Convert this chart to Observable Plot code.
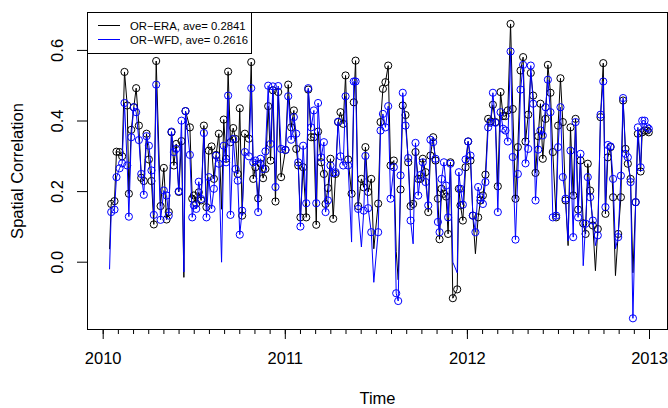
<!DOCTYPE html>
<html><head><meta charset="utf-8">
<script src="https://cdn.jsdelivr.net/npm/d3@7"></script>
<script src="https://cdn.jsdelivr.net/npm/@observablehq/plot@0.6"></script>
<style>
html,body{margin:0;padding:0;background:#fff;}
#wrap{position:relative;width:668px;height:408px;font-family:"Liberation Sans",Arial,sans-serif;}
.legend{position:absolute;left:87px;top:12px;width:163px;height:40px;border:1px solid #000;background:#fff;font-size:11.3px;color:#000;}
.legend .row{position:absolute;left:42px;height:14px;line-height:14px;white-space:nowrap;}
.legend .sw{position:absolute;left:10px;width:22px;height:1px;}
</style></head>
<body><div id="wrap"></div>
<script>
// time (decimal years) and values
const time = [
2010.035,2010.044,2010.062,2010.073,2010.090,2010.104,2010.117,2010.132,2010.141,2010.154,2010.168,2010.181,2010.196,2010.209,2010.223,2010.238,2010.251,2010.265,2010.278,2010.291,2010.315,2010.333,2010.348,2010.360,2010.375,2010.388,2010.401,2010.415,2010.430,2010.443,2010.452,2010.476,2010.489,
2010.498,2010.511,2010.525,2010.538,2010.553,2010.567,2010.580,2010.595,2010.608,2010.620,2010.635,2010.650,2010.662,2010.675,2010.686,2010.699,2010.714,2010.727,2010.739,2010.750,2010.763,2010.778,2010.800,2010.813,2010.824,2010.836,2010.851,2010.864,2010.878,2010.891,2010.906,2010.919,2010.932,2010.946,2010.961,2010.977,
2011.001,2011.016,2011.032,2011.047,2011.060,2011.071,2011.083,2011.098,2011.115,2011.126,2011.142,2011.157,2011.170,2011.180,2011.197,2011.212,2011.221,2011.234,2011.248,2011.263,2011.276,2011.290,2011.303,2011.318,2011.331,2011.345,2011.364,2011.376,2011.386,2011.400,2011.418,2011.431,2011.440,2011.455,2011.472,
2011.486,2011.510,2011.523,2011.536,2011.550,2011.565,2011.578,2011.596,2011.609,2011.620,2011.633,2011.645,2011.660,2011.675,2011.688,2011.702,2011.715,2011.730,2011.742,2011.755,2011.770,2011.785,2011.797,2011.812,2011.825,2011.838,2011.847,2011.858,2011.871,2011.883,2011.894,2011.907,2011.920,
2011.944,2011.953,2011.962,2011.975,2011.990,2012.004,2012.017,2012.030,2012.044,2012.059,2012.072,2012.085,2012.099,2012.114,2012.127,2012.140,2012.154,2012.167,2012.182,2012.196,2012.209,2012.222,2012.237,2012.249,2012.264,2012.277,2012.292,2012.306,2012.319,2012.334,2012.348,2012.361,2012.374,2012.389,2012.401,2012.414,2012.429,2012.442,2012.456,2012.469,
2012.487,2012.498,2012.511,2012.524,2012.539,2012.553,2012.566,2012.581,2012.594,2012.608,2012.621,2012.636,2012.649,2012.661,2012.674,2012.689,2012.703,2012.716,2012.731,2012.746,2012.758,2012.771,2012.786,2012.800,2012.813,2012.828,2012.843,2012.855,2012.868,2012.881,2012.896,2012.909,2012.924,2012.936,2012.951,2012.960,2012.973,2012.987,2012.996];

const era = [
0.038,0.165,0.173,0.313,0.312,0.300,0.539,0.444,0.194,0.375,0.439,0.493,0.387,0.239,0.230,0.364,0.291,0.230,0.107,0.570,0.159,0.267,0.121,0.142,0.368,0.274,0.335,0.199,0.343,-0.043,0.428,0.382,0.180,
0.189,0.166,0.198,0.175,0.387,0.156,0.316,0.328,0.236,0.304,0.364,0.150,0.404,0.293,0.540,0.340,0.380,0.349,0.250,0.436,0.132,0.364,0.350,0.567,0.236,0.269,0.181,0.279,0.238,0.264,0.442,0.288,0.487,0.172,0.482,0.241,
0.318,0.503,0.382,0.430,0.321,0.274,0.127,0.269,0.127,0.489,0.354,0.354,0.106,0.370,0.283,0.250,0.165,0.210,0.293,0.123,0.250,0.397,0.425,0.392,0.529,0.291,0.194,0.453,0.571,0.159,0.236,0.212,0.326,0.199,0.236,
0.038,0.166,0.397,0.491,0.510,0.557,0.274,0.288,0.030,-0.050,0.206,0.444,0.417,0.283,0.159,0.165,0.312,0.236,0.236,0.293,0.255,0.142,0.302,0.354,0.288,0.180,0.065,0.208,0.194,0.186,0.080,0.283,-0.102,
-0.077,0.208,0.161,0.118,0.269,0.342,0.288,0.132,0.024,0.127,0.175,0.189,0.248,0.406,0.399,0.446,0.397,0.215,0.482,0.414,0.414,0.430,0.675,0.434,0.180,0.326,0.543,0.581,0.342,0.418,0.536,0.472,0.253,0.357,0.449,0.293,0.406,0.559,0.480,0.312,
0.127,0.387,0.521,0.397,0.175,0.047,0.382,0.189,0.406,0.149,0.288,0.110,0.080,0.279,0.203,0.104,-0.024,0.094,0.411,0.564,0.137,0.297,0.326,0.184,-0.038,0.080,0.184,0.458,0.321,0.279,0.236,-0.030,0.170,0.364,0.257,0.368,0.373,0.373,0.368];

const wfd = [
-0.019,0.142,0.149,0.241,0.266,0.280,0.451,0.274,0.129,0.354,0.439,0.425,0.346,0.250,0.191,0.357,0.330,0.260,0.134,0.503,0.120,0.203,0.189,0.132,0.370,0.312,0.321,0.201,0.401,-0.028,0.428,0.304,0.127,
0.161,0.151,0.228,0.179,0.366,0.127,0.241,0.151,0.208,0.302,0.279,0.000,0.330,0.283,0.472,0.134,0.349,0.264,0.231,0.078,0.146,0.312,0.300,0.493,0.283,0.288,0.142,0.293,0.264,0.314,0.500,0.335,0.498,0.213,0.499,0.321,
0.318,0.470,0.347,0.411,0.364,0.283,0.101,0.330,0.167,0.493,0.382,0.430,0.167,0.451,0.297,0.340,0.142,0.175,0.274,0.252,0.255,0.398,0.300,0.274,0.470,0.274,0.057,0.512,0.512,0.151,0.043,0.146,0.301,0.153,0.085,
-0.057,0.085,0.373,0.420,0.382,0.442,0.180,0.269,-0.088,-0.110,0.246,0.480,0.387,0.295,0.118,0.052,0.338,0.189,0.247,0.283,0.227,0.161,0.347,0.340,0.293,0.114,0.085,0.236,0.283,0.217,0.127,0.279,0.000,
-0.030,0.255,0.208,0.163,0.291,0.342,0.302,0.132,0.085,0.213,0.184,0.165,0.227,0.382,0.395,0.480,0.395,0.142,0.425,0.378,0.373,0.342,0.597,0.298,0.064,0.250,0.489,0.559,0.280,0.321,0.557,0.449,0.175,0.319,0.373,0.359,0.439,0.517,0.425,0.127,
0.132,0.326,0.439,0.241,0.180,0.060,0.316,0.071,0.397,0.127,0.307,-0.010,0.109,0.241,0.184,0.118,0.047,0.076,0.418,0.512,0.156,0.332,0.328,0.236,0.038,0.071,0.245,0.465,0.307,0.297,0.227,-0.159,0.170,0.382,0.269,0.401,0.401,0.382,0.378];

// times where the line passes without a circle
const eraNoCircle = [2010.035,2010.443,2010.650,2011.486,2011.609,2011.620,2012.044,2012.553,2012.703,2012.813,2012.909];
const wfdNoCircle = [2010.035,2010.443,2010.650,2011.364,2011.418,2011.486,2011.702,2011.920,2011.944,2012.553,2012.636,2012.703,2012.813];

const yearTicks = [2010, 2011, 2012, 2013];
const yTicks = [0.0, 0.2, 0.4, 0.6];
const yTickLabels = ["0.0", "0.2", "0.4", "0.6"];
const seriesNames = ["OR\u2212ERA, ave= 0.2841", "OR\u2212WFD, ave= 0.2616"];
const seriesColors = ["#000000", "#0000ff"];

const rows = time.map((t, i) => ({t, era: era[i], wfd: wfd[i]}));
const monthTicks = [];
for (let y = 2010; y <= 2013; y++) for (let m = 0; m < 12; m++) { const v = y + m / 12; if (v <= 2013.0) monthTicks.push(v); }

const font = "Liberation Sans, Arial, Helvetica, sans-serif";
const fs = 16.5;
const plot = Plot.plot({
  width: 668, height: 408,
  marginLeft: 87, marginTop: 12, marginRight: 1, marginBottom: 79,
  x: {type: "linear", domain: [2009.9138, 2013.0988], label: null},
  y: {domain: [-0.1907, 0.7074], label: null},
  style: {fontFamily: font, fontSize: fs + "px", background: "white", color: "black", overflow: "visible"},
  marks: [
    Plot.line(rows, {x: "t", y: "era", stroke: seriesColors[0], strokeWidth: 1}),
    Plot.dot(rows.filter(d => !eraNoCircle.includes(d.t)), {x: "t", y: "era", r: 3.6, stroke: seriesColors[0], strokeWidth: 1, fill: "none"}),
    Plot.line(rows, {x: "t", y: "wfd", stroke: seriesColors[1], strokeWidth: 1}),
    Plot.dot(rows.filter(d => !wfdNoCircle.includes(d.t)), {x: "t", y: "wfd", r: 3.6, stroke: seriesColors[1], strokeWidth: 1, fill: "none"}),
    Plot.frame({stroke: "black", strokeWidth: 1}),
    Plot.axisX(monthTicks, {tickSize: 5, tickFormat: () => "", stroke: "black", label: null}),
    Plot.axisX(yearTicks, {tickSize: 10, tickPadding: 13, tickFormat: d => String(d), stroke: "black", fontSize: fs, label: null}),
    Plot.axisY(yTicks, {tickSize: 10, tickFormat: () => "", stroke: "black", label: null}),
    Plot.text(yTicks, {y: d => d, text: (d, i) => yTickLabels[i], frameAnchor: "left", dx: -30, rotate: -90, textAnchor: "middle", lineAnchor: "middle", fontSize: fs, fill: "black"}),
    Plot.text(["Spatial Correlation"], {frameAnchor: "left", dx: -70, rotate: -90, textAnchor: "middle", lineAnchor: "middle", text: d => d, fontSize: fs, fill: "black"}),
    Plot.text(["Time"], {frameAnchor: "bottom", dy: 69, textAnchor: "middle", lineAnchor: "middle", text: d => d, fontSize: fs, fill: "black"})
  ]
});
const wrap = document.getElementById("wrap");
wrap.appendChild(plot);

const leg = document.createElement("div");
leg.className = "legend";
seriesNames.forEach((name, i) => {
  const sw = document.createElement("div");
  sw.className = "sw";
  sw.style.top = (12 + i * 14) + "px";
  sw.style.background = seriesColors[i];
  leg.appendChild(sw);
  const r = document.createElement("div");
  r.className = "row";
  r.style.top = (6 + i * 14) + "px";
  r.textContent = name;
  leg.appendChild(r);
});
wrap.appendChild(leg);
</script></body></html>
